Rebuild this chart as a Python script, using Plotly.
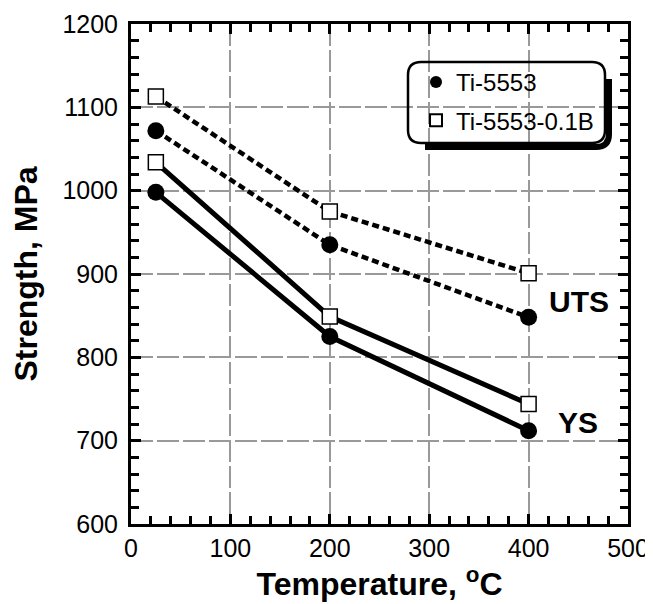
import plotly.graph_objects as go

temps = [25, 200, 400]
uts_ti5553 = [1072, 935, 848]
uts_ti5553b = [1113, 975, 901]
ys_ti5553 = [998, 825, 712]
ys_ti5553b = [1034, 849, 744]
series_names = ["Ti-5553", "Ti-5553-0.1B"]

# the page body adds an 8px offset; compensate so the plot lands where the reference has it
OFF = 8
W, H = 653 - OFF, 604 - OFF
L, R, T, B = 131 - OFF, 25, 24 - OFF, 80
pw, ph = W - L - R, H - T - B

def px2paper(px, py):
    # px, py are pixel positions in the final screenshot
    return (px - OFF - L) / pw, (H - B - (py - OFF)) / ph

fig = go.Figure()

circle = dict(symbol="circle", size=17, color="black")
square_f = dict(symbol="square", size=15, color="white", line=dict(width=1.5, color="black"))

fig.add_trace(go.Scatter(x=temps, y=uts_ti5553, mode="lines+markers", showlegend=False,
                         line=dict(color="black", width=4.5, dash="7px,4px"), marker=circle))
fig.add_trace(go.Scatter(x=temps, y=uts_ti5553b, mode="lines+markers", showlegend=False,
                         line=dict(color="black", width=4.5, dash="7px,4px"), marker=square_f))
fig.add_trace(go.Scatter(x=temps, y=ys_ti5553, mode="lines+markers", showlegend=False,
                         line=dict(color="black", width=5), marker=circle))
fig.add_trace(go.Scatter(x=temps, y=ys_ti5553b, mode="lines+markers", showlegend=False,
                         line=dict(color="black", width=5), marker=square_f))

# legend-only traces
fig.add_trace(go.Scatter(x=[None], y=[None], mode="markers", name=series_names[0],
                         marker=circle, legendgroup="a"))
fig.add_trace(go.Scatter(x=[None], y=[None], mode="markers", name=series_names[1],
                         marker=square_f, legendgroup="b"))

lx, ly = px2paper(416, 60)

# legend box
x0, y0 = px2paper(408, 62)
x1, y1 = px2paper(605, 143)
r = 13
rx, ry = r / pw, r / ph
box = (f"M {x0+rx},{y0} L {x1-rx},{y0} Q {x1},{y0} {x1},{y0-ry} "
       f"L {x1},{y1+ry} Q {x1},{y1} {x1-rx},{y1} L {x0+rx},{y1} Q {x0},{y1} {x0},{y1+ry} "
       f"L {x0},{y0-ry} Q {x0},{y0} {x0+rx},{y0} Z")
d = 4
dx, dy = d / pw, d / ph
sx1, sy1 = x1 + dx, y1 - dy
shadow = (f"M {sx1},{y0-ry-dy} L {sx1},{sy1+ry} Q {sx1},{sy1} {sx1-rx},{sy1} L {x0+rx+dx},{sy1}")

shapes = [
    dict(type="path", path=box, xref="paper", yref="paper", line=dict(color="black", width=2.5)),
    dict(type="path", path=shadow, xref="paper", yref="paper", line=dict(color="black", width=6)),
]

font = "Liberation Sans, Arial, sans-serif"
axis_common = dict(
    showline=True, linecolor="black", linewidth=3, mirror="ticks",
    ticks="inside", ticklen=10, tickwidth=3, tickcolor="black",
    showgrid=True, gridcolor="#999999", gridwidth=2, griddash="22px,4px",
    zeroline=False, tickfont=dict(family=font, size=25, color="black"),
    automargin=False, tickmode="linear",
)

minor_x = dict(tickmode="linear", tick0=0, dtick=20, ticks="inside", ticklen=8,
               tickwidth=2.5, tickcolor="black", showgrid=False)
minor_y = dict(tickmode="linear", tick0=600, dtick=20, ticks="inside", ticklen=8,
               tickwidth=2.5, tickcolor="black", showgrid=False)

fig.update_layout(
    width=W, height=H, margin=dict(l=L, r=R, t=T, b=B),
    plot_bgcolor="white", paper_bgcolor="white",
    shapes=shapes,
    legend=dict(x=lx, y=ly, xanchor="left", yanchor="top", bgcolor="rgba(0,0,0,0)",
                font=dict(family=font, size=24, color="black"), tracegroupgap=4,
                itemsizing="constant"),
    xaxis=dict(range=[0, 500], tick0=0, dtick=100, minor=minor_x,
               title=dict(text="<b>Temperature, <sup>o</sup>C</b>",
                          font=dict(family=font, size=32, color="black"), standoff=4),
               **axis_common),
    yaxis=dict(range=[600, 1200], tick0=600, dtick=100, ticklabelstandoff=5, minor=minor_y,
               title=dict(text="<b>Strength, MPa</b>",
                          font=dict(family=font, size=32, color="black"), standoff=18),
               **axis_common),
    annotations=[
        dict(x=419, y=867, xref="x", yref="y", text="<b>UTS</b>", showarrow=False, xanchor="left",
             font=dict(family=font, size=30, color="black")),
        dict(x=428, y=722, xref="x", yref="y", text="<b>YS</b>", showarrow=False, xanchor="left",
             font=dict(family=font, size=30, color="black")),
    ],
)

fig.write_html("out.html")
